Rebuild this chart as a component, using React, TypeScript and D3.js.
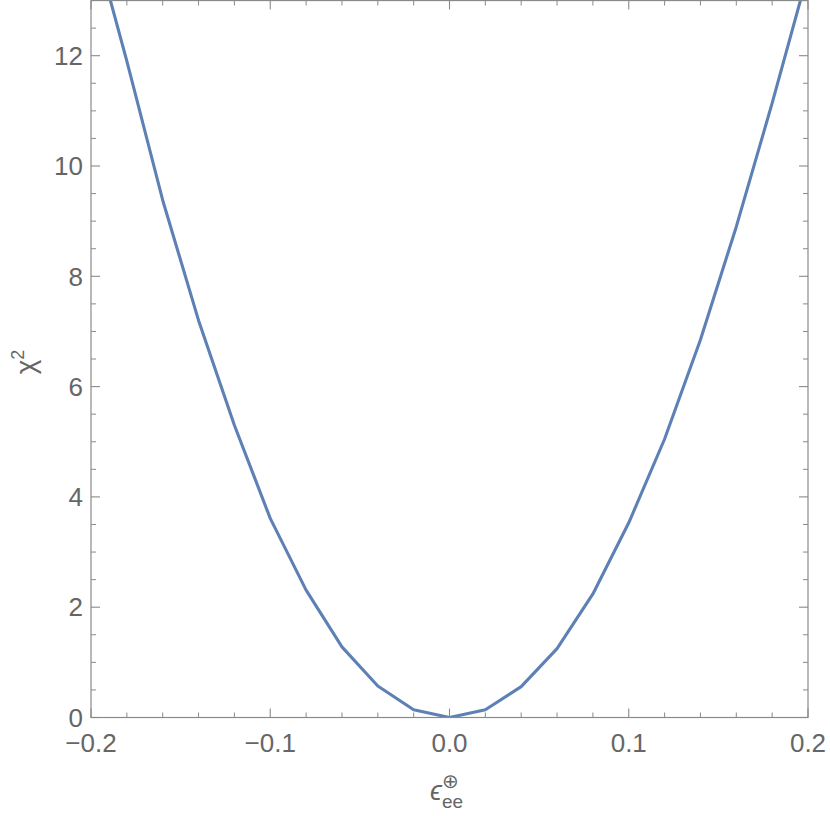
import React from "react";
import * as d3 from "d3";

const xValues = [-0.2, -0.18, -0.16, -0.14, -0.12, -0.1, -0.08, -0.06, -0.04, -0.02, 0, 0.02, 0.04, 0.06, 0.08, 0.1, 0.12, 0.14, 0.16, 0.18, 0.2];
const chi2Values = [14.3, 11.9, 9.38, 7.2, 5.3, 3.61, 2.31, 1.28, 0.57, 0.14, 0, 0.14, 0.56, 1.25, 2.24, 3.53, 5.05, 6.85, 8.9, 11.14, 13.5];
const xMajorTicks = [-0.2, -0.1, 0, 0.1, 0.2];
const xTickLabels = ["\u22120.2", "\u22120.1", "0.0", "0.1", "0.2"];
const yMajorTicks = [0, 2, 4, 6, 8, 10, 12];
const yTickLabels = ["0", "2", "4", "6", "8", "10", "12"];

const W = 830;
const H = 816;
const left = 91;
const right = 808;
const top = 0.55;
const bottom = 717.5;

const frameColor = "#8a8a8a";
const textColor = "#666666";
const lineColor = "#5E81B5";
const font = "'Liberation Sans', Arial, sans-serif";

export default function App() {
  const x = d3.scaleLinear().domain([-0.2, 0.2]).range([left, right]);
  const y = d3.scaleLinear().domain([0, 13]).range([bottom, top]);

  const xMinor = d3.range(-10, 11).map((i) => i * 0.02).filter((v) => !xMajorTicks.some((m) => Math.abs(m - v) < 1e-9));
  const yMinor = d3.range(0, 27).map((i) => i * 0.5).filter((v) => !yMajorTicks.some((m) => Math.abs(m - v) < 1e-9));

  const line = d3
    .line<number>()
    .x((_, i) => x(xValues[i]))
    .y((d) => y(d));

  const major = 9;
  const minor = 5;

  return (
    <svg width={W} height={H} style={{ position: "absolute", left: 0, top: 0, background: "#fff" }}>
      <defs>
        <clipPath id="plotClip">
          <rect x={left} y={top} width={right - left} height={bottom - top} />
        </clipPath>
      </defs>
      <path d={line(chi2Values) || ""} fill="none" stroke={lineColor} strokeWidth={3.1} strokeLinejoin="round" clipPath="url(#plotClip)" />

      <rect x={left} y={top} width={right - left} height={bottom - top} fill="none" stroke={frameColor} strokeWidth={1.2} />

      {xMajorTicks.map((v) => (
        <g key={"xM" + v}>
          <line x1={x(v)} x2={x(v)} y1={bottom} y2={bottom - major} stroke={frameColor} strokeWidth={1.1} />
          <line x1={x(v)} x2={x(v)} y1={top} y2={top + major} stroke={frameColor} strokeWidth={1.1} />
        </g>
      ))}
      {xMinor.map((v) => (
        <g key={"xm" + v}>
          <line x1={x(v)} x2={x(v)} y1={bottom} y2={bottom - minor} stroke={frameColor} strokeWidth={1} />
          <line x1={x(v)} x2={x(v)} y1={top} y2={top + minor} stroke={frameColor} strokeWidth={1} />
        </g>
      ))}

      {yMajorTicks.map((v) => (
        <g key={"yM" + v}>
          <line x1={left} x2={left + major} y1={y(v)} y2={y(v)} stroke={frameColor} strokeWidth={1.1} />
          <line x1={right} x2={right - major} y1={y(v)} y2={y(v)} stroke={frameColor} strokeWidth={1.1} />
        </g>
      ))}
      {yMinor.map((v) => (
        <g key={"ym" + v}>
          <line x1={left} x2={left + minor} y1={y(v)} y2={y(v)} stroke={frameColor} strokeWidth={1} />
          <line x1={right} x2={right - minor} y1={y(v)} y2={y(v)} stroke={frameColor} strokeWidth={1} />
        </g>
      ))}

      {xMajorTicks.map((v, i) => (
        <text key={"xl" + v} x={x(v)} y={752} textAnchor="middle" fontFamily={font} fontSize={26} fill={textColor}>
          {xTickLabels[i]}
        </text>
      ))}
      {yMajorTicks.map((v, i) => (
        <text key={"yl" + v} x={83} y={y(v) + 9.2} textAnchor="end" fontFamily={font} fontSize={26} fill={textColor}>
          {yTickLabels[i]}
        </text>
      ))}

      <text x={430} y={800} fontFamily={font} fontSize={27} fontStyle="italic" fill={textColor}>
        {"\u03F5"}
        <tspan fontSize={19} fontStyle="normal" dy={8}>ee</tspan>
        <tspan fontSize={20} fontStyle="normal" dx={-21} dy={-20}>{"\u2295"}</tspan>
      </text>
      <g transform="translate(35,362) rotate(-90)">
        <text x={0} y={0} textAnchor="middle" fontFamily={font} fontSize={28} fill={textColor}>
          {"\u03C7"}
          <tspan fontSize={18} dy={-11}>2</tspan>
        </text>
      </g>
    </svg>
  );
}
